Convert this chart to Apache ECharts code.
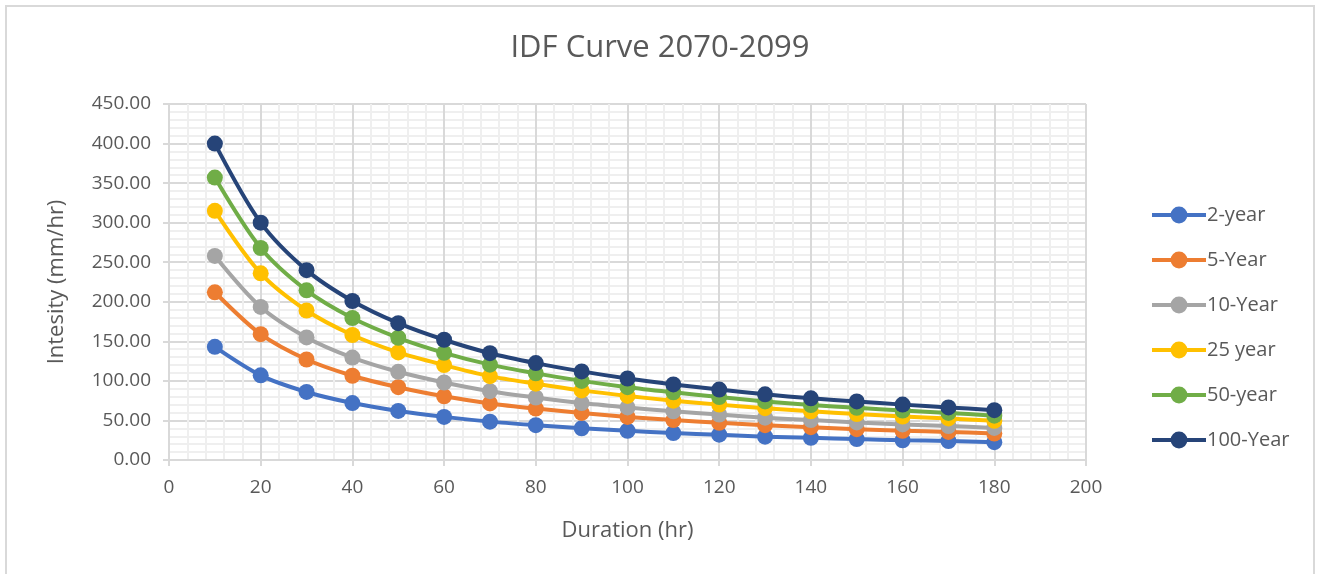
<!DOCTYPE html>
<html>
<head>
<meta charset="utf-8">
<script src="https://cdn.jsdelivr.net/npm/echarts@6/dist/echarts.min.js"></script>
<style>
  html, body { margin: 0; padding: 0; background: #fff; }
  #chart { width: 1320px; height: 574px; }
</style>
</head>
<body>
<div id="chart"></div>
<script>
// Storm durations (hr)
const durations = [10, 20, 30, 40, 50, 60, 70, 80, 90, 100, 110, 120, 130, 140, 150, 160, 170, 180];

// Rainfall intensity (mm/hr) by return period
const year2   = [143, 107, 86, 72, 62, 54.5, 48.5, 44, 40, 37, 34, 32, 29.5, 28, 26.5, 25, 24, 22.5];
const year5   = [212, 159, 127, 106.5, 92, 80.5, 71.5, 65, 59.5, 54.5, 50.5, 47, 44, 41.5, 39, 37, 35.5, 33.5];
const year10  = [258, 193.5, 155, 129.5, 111.5, 98, 87, 79, 72, 66.5, 61.5, 57.5, 53.5, 50.5, 47.5, 45, 43, 40.5];
const year25  = [315, 236, 189, 158, 136, 120, 106, 96.5, 88, 81, 75, 70, 65.5, 61.5, 58, 55, 52.5, 49.5];
const year50  = [357, 268, 214.5, 179.5, 154.5, 135.5, 120.5, 109.5, 100, 92, 85.5, 79.5, 74, 69.5, 66, 62.5, 59.5, 56];
const year100 = [400, 300, 240, 201, 173, 152, 135, 122.5, 112, 103, 95.5, 89, 83, 78, 74, 70, 66.5, 63];

const seriesNames = ['2-year', '5-Year', '10-Year', '25 year', '50-year', '100-Year'];
const seriesValues = [year2, year5, year10, year25, year50, year100];
const seriesColors = ['#4472C4', '#ED7D31', '#A5A5A5', '#FFC000', '#70AD47', '#264478'];

const FONT = '"Open Sans", "Noto Sans", sans-serif';
const TEXT = '#595959';

const chart = echarts.init(document.getElementById('chart'), null, { renderer: 'canvas' });

chart.setOption({
  animation: false,
  backgroundColor: '#ffffff',
  textStyle: { fontFamily: FONT, color: TEXT },
  title: {
    text: 'IDF Curve 2070-2099',
    left: 'center',
    top: 28,
    textStyle: { fontFamily: FONT, fontSize: 31, fontWeight: 'normal', color: TEXT }
  },
  graphic: [{
    type: 'rect',
    shape: { x: 6, y: 6, width: 1308, height: 590 },
    style: { fill: 'none', stroke: '#d9d9d9', lineWidth: 2 },
    silent: true,
    z: -10
  }],
  legend: {
    orient: 'vertical',
    left: 1145,
    top: 198,
    itemGap: 21,
    itemWidth: 54,
    itemHeight: 21,
    lineStyle: { width: 4 },
    textStyle: { fontFamily: FONT, fontSize: 20, lineHeight: 24, color: TEXT, padding: [0, 0, 0, -4] },
    data: seriesNames
  },
  grid: { left: 169, right: 234, top: 104, bottom: 114, containLabel: false },
  xAxis: {
    type: 'value',
    min: 0,
    max: 200,
    interval: 20,
    name: 'Duration (hr)',
    nameLocation: 'middle',
    nameGap: 60,
    nameTextStyle: { fontFamily: FONT, fontSize: 22, color: TEXT },
    axisLine: { show: true, lineStyle: { color: '#d9d9d9', width: 2 } },
    axisTick: { show: true, length: 6, lineStyle: { color: '#d9d9d9', width: 2 } },
    axisLabel: { fontFamily: FONT, fontSize: 19, color: TEXT, margin: 18 },
    splitLine: { show: true, lineStyle: { color: '#d9d9d9', width: 2 } },
    minorTick: { show: false, splitNumber: 5 },
    minorSplitLine: { show: true, lineStyle: { color: '#efefef', width: 2 } }
  },
  yAxis: {
    type: 'value',
    min: 0,
    max: 450,
    interval: 50,
    name: 'Intesity (mm/hr)',
    nameLocation: 'middle',
    nameGap: 101,
    nameTextStyle: { fontFamily: FONT, fontSize: 22, color: TEXT },
    axisLine: { show: true, lineStyle: { color: '#d9d9d9', width: 2 } },
    axisTick: { show: true, length: 6, lineStyle: { color: '#d9d9d9', width: 2 } },
    axisLabel: {
      fontFamily: FONT, fontSize: 19, color: TEXT, margin: 18,
      formatter: v => v.toFixed(2)
    },
    splitLine: { show: true, lineStyle: { color: '#d9d9d9', width: 2 } },
    minorTick: { show: false, splitNumber: 5 },
    minorSplitLine: { show: true, lineStyle: { color: '#efefef', width: 2 } }
  },
  series: seriesNames.map((name, i) => ({
    name: name,
    type: 'line',
    smooth: 0.3,
    symbol: 'circle',
    symbolSize: 16,
    data: durations.map((d, j) => [d, seriesValues[i][j]]),
    itemStyle: { color: seriesColors[i] },
    lineStyle: { color: seriesColors[i], width: 4 },
    emphasis: { disabled: true },
    z: 2 + i
  }))
});
</script>
</body>
</html>
